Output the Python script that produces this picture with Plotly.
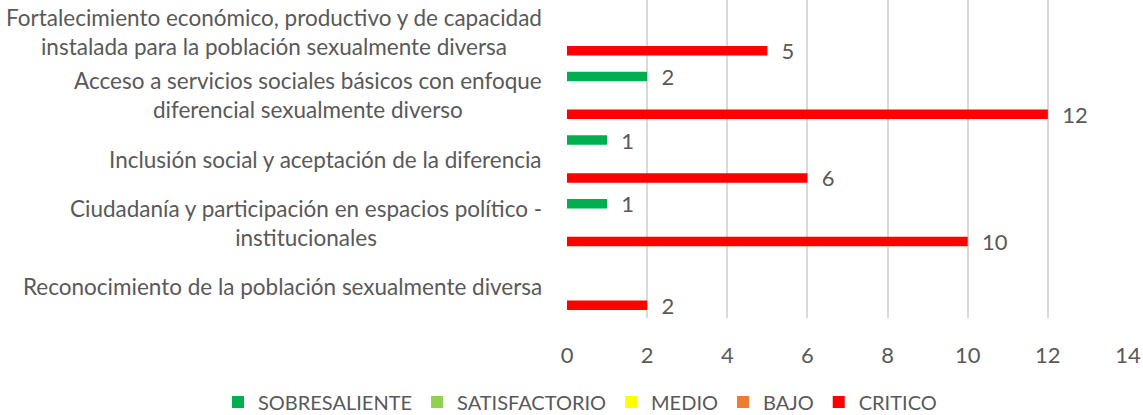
import plotly.graph_objects as go

categories = [
    "Reconocimiento de la población sexualmente diversa",
    "Ciudadanía y participación en espacios político -<br>institucionales",
    "Inclusión social y aceptación de la diferencia",
    "Acceso a servicios sociales básicos con enfoque<br>diferencial sexualmente diverso",
    "Fortalecimiento económico, productivo y de capacidad<br>instalada para la población sexualmente diversa",
]

sobresaliente = [None, 1, 1, 2, None]
satisfactorio = [None, None, None, None, None]
medio = [None, None, None, None, None]
bajo = [None, None, None, None, None]
critico = [2, 10, 6, 12, 5]

x_ticks = [0, 2, 4, 6, 8, 10, 12, 14]

FONT = "Lato, 'Open Sans', sans-serif"
GRAY = "#595959"

# plotted bottom-to-top within each group: CRITICO at bottom, SOBRESALIENTE on top
series = [
    ("CRITICO", critico, "#FF0000", 5),
    ("BAJO", bajo, "#ED7D31", 4),
    ("MEDIO", medio, "#FFFF00", 3),
    ("SATISFACTORIO", satisfactorio, "#92D050", 2),
    ("SOBRESALIENTE", sobresaliente, "#00B050", 1),
]

fig = go.Figure()
for name, vals, color, rank in series:
    fig.add_trace(go.Bar(
        name=name,
        x=vals,
        y=categories,
        orientation="h",
        marker=dict(color=color, line=dict(width=0)),
        texttemplate="\u00a0\u00a0%{x}",
        textposition="outside",
        textfont=dict(family=FONT, size=22, color=GRAY),
        constraintext="none",
        cliponaxis=False,
        legendrank=rank,
        hoverinfo="x+name",
    ))

for cat in categories:
    fig.add_annotation(
        x=0, xref="paper", xshift=-23, xanchor="right",
        y=cat, yref="y", yanchor="middle",
        text=cat, showarrow=False, align="center",
        font=dict(family=FONT, size=22.5, color=GRAY),
    )

fig.update_layout(
    width=1143, height=415,
    margin=dict(l=567, r=15, t=0, b=97, autoexpand=False),
    paper_bgcolor="white", plot_bgcolor="white",
    barmode="group", bargap=0.255, bargroupgap=0,
    font=dict(family=FONT, size=20, color=GRAY),
    legend=dict(
        orientation="h", xref="paper", yref="paper",
        x=(218 - 567) / 561, xanchor="left",
        y=-(402 - 318) / 318, yanchor="middle",
        font=dict(family=FONT, size=20, color=GRAY),
        itemwidth=30, traceorder="normal",
    ),
    xaxis=dict(
        range=[0, 14], tickvals=x_ticks, ticktext=[str(t) for t in x_ticks],
        showgrid=True, gridcolor="#D9D9D9", gridwidth=2,
        zeroline=False, showline=False,
        ticks="outside", ticklen=18, tickcolor="rgba(0,0,0,0)",
        tickfont=dict(family=FONT, size=22, color=GRAY),
    ),
    yaxis=dict(
        type="category", categoryorder="array", categoryarray=categories,
        range=[-0.5, 4.5], showticklabels=False, showgrid=False,
        zeroline=False, showline=False,
    ),
)

fig.write_html(
    "out.html",
    config={"displayModeBar": False},
    post_script="document.body.style.margin='0px';",
)
